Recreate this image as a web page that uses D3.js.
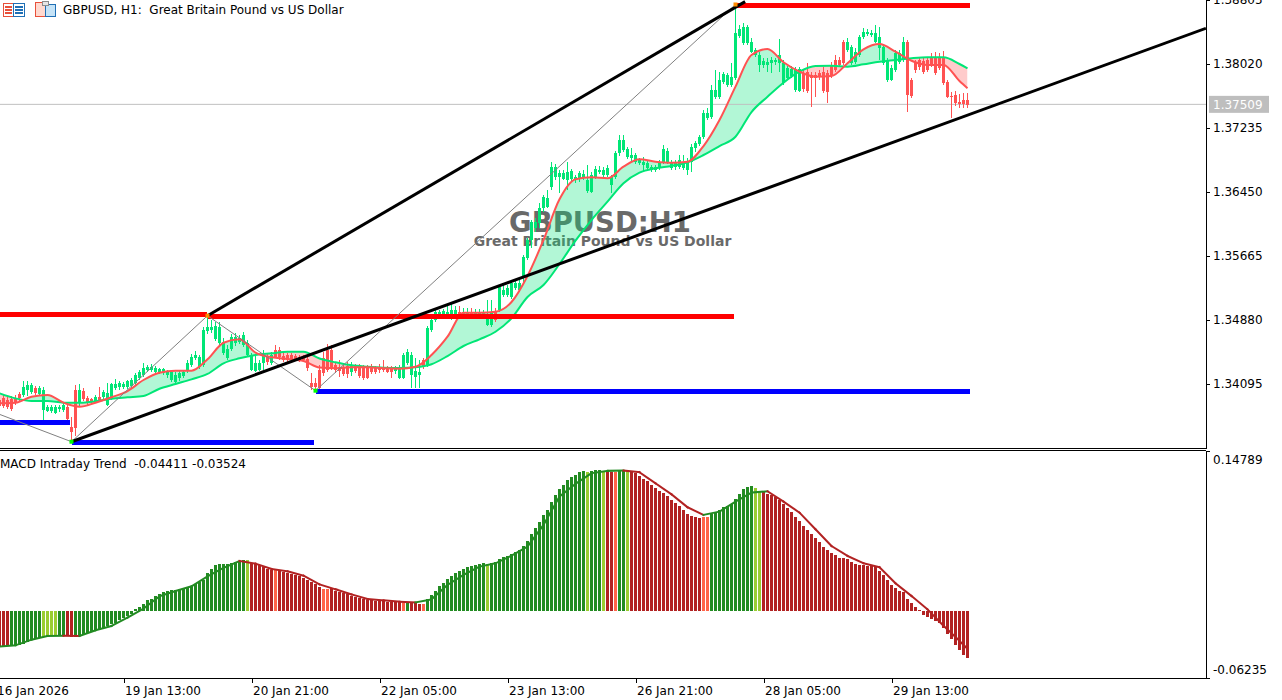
<!DOCTYPE html>
<html>
<head>
<meta charset="utf-8">
<title>GBPUSD H1</title>
<script src="https://cdn.jsdelivr.net/npm/d3@7"></script>
<style>
  html, body { margin: 0; padding: 0; background: #fff; overflow: hidden; }
  svg { display: block; }
  text { font-family: "DejaVu Sans", sans-serif; font-size: 12px; fill: #000; white-space: pre; }
  .axis path, .axis line { stroke: #000; shape-rendering: crispEdges; }
  .axis text { font-family: "DejaVu Sans", sans-serif; font-size: 12px; fill: #000; }
</style>
</head>
<body>
<script>
// all prices are stored as points above 1.30000 (4935 = 1.34935)
var opens = [
3899,3924,3899,3911,3924,3972,3960,4021,3997,4046,3972,3776,3764,3764,3740,3789,3776,3813,3567,4021,
3874,4009,3924,3911,3874,3936,3936,3837,3924,4046,4058,4058,4058,4070,4107,4169,4206,4267,4267,4242,
4242,4230,4206,4144,4120,4169,4193,4255,4328,4414,4303,4328,4745,4757,4647,4598,4475,4414,4524,4598,
4610,4573,4451,4267,4255,4267,4352,4426,4352,4512,4512,4438,4451,4451,4438,4426,4426,4401,4107,4107,
4267,4414,4512,4512,4328,4303,4291,4316,4242,4328,4316,4291,4291,4316,4291,4303,4303,4291,4279,4255,
4169,4169,4352,4206,4181,4206,4389,4328,4757,4880,4941,4953,4953,4953,4953,4978,4953,4941,4978,4953,
4953,4953,4818,4818,4978,5003,5187,5187,5162,5273,5248,5407,5640,5861,6008,6070,6254,6266,6511,6634,
6634,6609,6597,6609,6597,6609,6622,6462,6450,6634,6695,6658,6658,6536,6634,6928,6965,6879,6867,6818,
6806,6781,6744,6720,6720,6744,6818,6818,6744,6757,6757,6744,6720,6818,6990,7039,7125,7358,7370,7615,
7615,7799,7762,7762,7848,8363,8278,8278,8167,8130,8008,8008,8008,8032,8045,8032,7787,7848,7873,7701,
7689,7910,7922,7885,7885,7910,7922,7910,8008,8069,8069,8290,8192,8032,8045,8130,8351,8388,8376,8290,
8216,8032,7824,7824,7946,8045,8069,8290,7824,8045,8069,8057,8069,8094,8094,8094,8094,7799,7627,7640,
7554,7578,7578];
var closes = [
3825,3825,3813,3789,3874,3924,4058,4083,4083,3985,4046,4021,3813,3813,3813,3813,3837,3666,3506,3555,
4021,3911,3862,3874,3936,3899,3997,3985,4095,4095,4107,4095,4132,4144,4206,4242,4291,4303,4303,4291,
4279,4279,4242,4242,4206,4230,4242,4352,4426,4451,4426,4757,4794,4794,4806,4794,4610,4524,4671,4671,
4659,4696,4598,4451,4352,4352,4451,4365,4451,4426,4426,4389,4389,4389,4401,4389,4389,4291,4058,4058,
4046,4230,4267,4291,4267,4255,4218,4218,4316,4255,4193,4169,4169,4242,4242,4267,4267,4242,4242,4303,
4303,4451,4487,4451,4255,4242,4303,4782,4880,4978,4978,4990,4978,5003,5003,4941,4978,4978,4953,4978,
4978,4978,4904,4965,4880,5285,5248,5273,5334,5334,5334,5653,5861,6082,6082,6254,6389,6376,6757,6757,
6683,6683,6695,6708,6634,6683,6671,6597,6658,6732,6720,6720,6744,6634,6928,7088,7088,6977,6904,6904,
6842,6818,6806,6757,6757,6818,6977,6953,6818,6818,6842,6818,6818,7002,7051,7125,7419,7419,7701,7701,
7824,7897,7885,7860,8400,8449,8474,8474,8290,8192,8130,8057,8045,8069,8069,8130,8032,7971,7959,7959,
7959,7713,7689,7848,7848,7860,7689,7677,7873,7946,8008,8032,8290,8229,8167,8351,8412,8412,8400,8400,
8351,8229,8069,7971,8155,8155,8290,7640,7627,7946,7983,7922,7946,8008,7910,7971,7787,7615,7615,7541,
7529,7529,7517];
var highs = [
3924,3960,3936,3948,3960,3997,4132,4132,4107,4070,4070,4058,3837,3837,3837,3837,3862,3850,3690,4083,
4095,4046,3948,3924,3960,4058,4021,4107,4107,4156,4132,4120,4144,4169,4230,4267,4352,4328,4340,4316,
4291,4291,4267,4267,4242,4255,4267,4389,4463,4500,4451,4794,4929,4880,4855,4855,4659,4573,4708,4720,
4696,4733,4635,4475,4451,4389,4512,4463,4487,4573,4549,4475,4475,4475,4463,4451,4451,4438,4230,4169,
4328,4487,4586,4573,4365,4389,4352,4365,4365,4340,4340,4328,4328,4340,4316,4340,4389,4316,4316,4316,
4328,4475,4524,4487,4414,4389,4414,4806,4904,5003,5003,5015,5052,5076,5052,5052,5027,5027,5027,5015,
5015,5003,5125,5125,5027,5309,5334,5309,5358,5358,5371,5677,5886,6106,6131,6315,6413,6474,6818,6793,
6720,6720,6818,6732,6658,6708,6720,6781,6695,6769,6769,6757,6781,6658,6953,7149,7149,7002,6990,6928,
6867,6879,6830,6781,6781,6842,7026,6990,6842,6842,6904,6904,6867,7039,7075,7149,7456,7480,7762,7946,
7922,7922,7910,8032,8768,8498,8523,8498,8339,8216,8167,8094,8094,8106,8094,8327,8069,7995,7995,7983,
7983,7946,8032,7922,7922,7946,7983,7946,8045,8130,8106,8314,8339,8253,8216,8376,8462,8449,8437,8498,
8474,8253,8094,8008,8192,8192,8351,8314,7848,8069,8094,8094,8106,8155,8167,8155,8179,7824,7677,7689,
7652,7664,7664];
var lows = [
3801,3801,3789,3764,3837,3887,3936,3948,3972,3960,3948,3653,3752,3740,3727,3752,3752,3653,3408,3457,
3825,3887,3837,3850,3862,3874,3911,3825,3899,4021,4021,4033,4033,4046,4083,4144,4181,4242,4242,4218,
4218,4206,4169,4120,4095,4132,4169,4230,4303,4389,4279,4303,4708,4720,4622,4561,4451,4389,4500,4561,
4586,4549,4426,4255,4242,4255,4267,4328,4328,4414,4389,4365,4365,4352,4377,4365,4365,4255,4021,3997,
4021,4193,4242,4267,4230,4181,4193,4169,4193,4230,4169,4144,4156,4218,4218,4230,4242,4230,4169,4218,
4156,4156,4328,4046,4046,4046,4279,4303,4733,4855,4904,4892,4904,4880,4916,4904,4904,4904,4916,4904,
4916,4904,4806,4794,4855,4978,5162,5162,5137,5248,5223,5334,5616,5763,5959,6008,6205,6254,6474,6597,
6438,6597,6474,6573,6560,6573,6597,6438,6438,6609,6671,6634,6634,6438,6609,6891,6941,6855,6818,6793,
6781,6695,6708,6695,6695,6720,6793,6793,6720,6720,6732,6720,6658,6695,6941,7014,7100,7333,7345,7591,
7591,7775,7738,7738,7824,8339,8253,8253,8155,8106,7922,7971,7922,7910,8008,7922,7762,7824,7848,7677,
7677,7677,7664,7492,7615,7824,7664,7542,7848,7922,7983,8008,8167,8008,8020,8106,8327,8363,8351,8278,
8069,8008,7799,7811,7922,8020,8045,7431,7603,7910,7946,7897,7922,7983,7885,7946,7762,7603,7358,7505,
7480,7480,7480];

// moving averages
var maBars = d3.range(0, 241, 4).concat(242);
var fastMa = [
3858,3866,3939,3960,3866,3816,3866,3932,4009,4144,4233,4258,4258,4398,4601,4643,4479,4422,4402,4377,
4297,4287,4300,4300,4287,4283,4307,4451,4675,4969,4969,4982,5101,5420,5861,6360,6606,6630,6618,6760,
6851,6822,6809,6822,7014,7333,7742,8130,8204,8041,7926,7864,7873,8029,8200,8265,8171,8060,8008,8008,
7811,7722];
var slowMa = [
3981,3919,3886,3886,3866,3866,3883,3915,3932,3948,4037,4095,4152,4218,4349,4410,4451,4471,4491,4491,
4408,4361,4324,4307,4295,4291,4300,4337,4438,4561,4643,4736,4901,5162,5309,5567,5853,6106,6331,6557,
6687,6741,6769,6814,6904,7014,7128,7431,7619,7791,7926,7995,7999,7987,8016,8048,8069,8090,8102,8102,
8020,7967];

// MACD pane, in thousandths
var macdValues = [
-33.1,-33.1,-33.1,-33.1,-32.8,-32.1,-30.6,-29,-27.5,-26.3,-25.3,-24.4,-23.8,-23.2,-22.9,-22.9,-23.2,-23.8,-24.7,-24.4,
-23.8,-22.2,-20.7,-19.8,-18.8,-17.6,-16.1,-14.5,-12.7,-11.1,-9,-6.5,-4.6,-2.8,1.9,3.4,6.5,9.6,11.1,13.3,
15.8,17.3,17.9,18.8,19.5,20.4,21.3,21.9,23.2,25,26.6,28.7,35.2,38.9,42,43.6,43.6,43.6,44.2,45.1,
46,46.7,46.7,44.2,43.6,42,40.5,38.9,38,37.4,37.4,35.8,34.9,34.3,32.8,31.8,30.6,28.1,26.6,24.4,
21.9,20.4,20.4,20.7,18.2,17,16,15.1,13.6,12.7,12,10.5,9.9,9.9,9,9,9,8.3,8.3,8,
7.7,7.1,6.8,7.7,6.8,6.5,6.5,10.5,14.5,17.9,22.9,25.6,29.4,32.1,34.9,36.8,38.6,40.2,41.4,42.3,
43.3,43.9,43,43.9,44.8,47.6,49.4,50.7,52.5,54.4,56.2,59.9,64.6,71,76.3,82.2,88.7,93.3,100.7,107.2,
112.8,116.5,121.1,123.6,125.8,128.2,129.5,128.5,129.5,130.4,130.4,129.8,129.5,128.9,128.9,130.1,130.4,130.1,129.5,127.3,
125.1,122,120.2,116.5,114,111.2,109.4,106.3,102.6,100.1,97,93.3,89.6,87.8,86.5,85.9,87.1,87.1,89.6,90.2,
93.3,95.8,97,98.9,103.5,108.2,112.8,114.9,115.6,113.7,111.2,110,108.2,106.9,105.1,102.6,98.9,95.5,91.5,87.1,
83.4,78.8,74.8,71.1,67.4,63.7,59.3,56.2,53.5,51.6,49.1,48.8,47.9,45.1,43.3,42.3,42.3,41.7,41.4,40.2,
36.8,32.8,28.4,23.8,21,18.5,17.3,10.8,7.4,3.4,0.6,-4,-5.9,-7.7,-9.6,-11.7,-16,-21.6,-26.3,-31.8,
-36.5,-41.1,-44.11];
var signalValues = [
-33.1,-32.1,-26.9,-23.5,-23.2,-23.5,-18.2,-14.2,-6.5,1.9,13.3,18.2,22.6,31.8,39.6,46,43.6,38.6,36.5,32.4,
24.4,19.8,15.1,10.8,9.6,8.3,7.7,10.5,23.8,33.1,40.8,43.9,51,59.3,79.4,105.7,117.4,127.3,129.5,129.8,
128.2,118,107.8,95.8,88.7,91.8,101,109.4,110.6,101,90.8,75.4,59.9,50.7,43.9,40.2,25.3,13.6,1.2,-14,
-28,-35.24];
// colour state of each histogram run: [state, bars]
var macdRuns = [
["down",3],["up",8],["upSlow",4],["up",2],["down",2],["up",43],["upSlow",1],["down",6],["downSlow",1],["down",11],
["downSlow",2],["down",18],["downSlow",1],["up",1],["down",3],["downSlow",1],["up",15],["upSlow",1],["up",24],["upSlow",1],
["up",3],["upSlow",1],["down",2],["downSlow",1],["up",2],["upSlow",1],["down",18],["downSlow",2],["up",11],["upSlow",2],
["down",52]];

var priceTicks = [8805, 8020, 7235, 6450, 5665, 4880, 4095];
var macdTicks = [147.89, -62.35];
var timeTickBars = [-1, 31, 63, 95, 127, 159, 191, 223];
var timeLabels = ["16 Jan 2026", "19 Jan 13:00", "20 Jan 21:00", "22 Jan 05:00", "23 Jan 13:00", "26 Jan 21:00", "28 Jan 05:00", "29 Jan 13:00"];

// drawn objects: [from bar, to bar, price]
var redLevels = [[-1, 51.9, 4947], [52, 183.5, 4925], [184, 242.5, 8736]];
var blueLevels = [[-1, 17.6, 3623], [18, 78.6, 3377], [79, 242.5, 4003]];
var trendLines = [[52, 4933, 186.4, 8785], [18, 3387, 301.6, 8458]];
var zigzagBars = [0, 18, 52, 79, 184];
var zigzagPrices = [3723, 3387, 4933, 4013, 8750];
var bidLine = 7525;
var bidLabel = "1.37509";

var GREEN = "#00e676", RED = "#ff5252";
var macdColor = { up: "#228b22", down: "#b22222", upSlow: "#9acd32", downSlow: "#ff6347" };

var WIDTH = 1282, HEIGHT = 700, AXIS_X = 1206;

var x = d3.scaleLinear().domain([0, 242]).range([-0.5, 967.5]);
var yPrice = d3.scaleLinear().domain([8805, 3310]).range([0, 448]);
var yMacd = d3.scaleLinear().domain([147.89, -62.35]).range([451, 678]);

function fmtPrice(p) { return (1.3 + p / 1e5).toFixed(5); }

var svg = d3.select("body").append("svg").attr("width", WIDTH).attr("height", HEIGHT);
var defs = svg.append("defs");

defs.append("clipPath").attr("id", "pricePane").append("rect")
    .attr("x", 0).attr("y", 0).attr("width", AXIS_X).attr("height", 448);
defs.append("clipPath").attr("id", "macdPane").append("rect")
    .attr("x", 0).attr("y", 451).attr("width", AXIS_X).attr("height", 227);

var ma = maBars.map(function(b, i) { return { bar: b, fast: fastMa[i], slow: slowMa[i] }; });
var curve = d3.curveMonotoneX;

defs.append("clipPath").attr("id", "aboveSlow").append("path")
    .attr("d", d3.area().curve(curve).x(function(d) { return x(d.bar); }).y0(0).y1(function(d) { return yPrice(d.slow); })(ma));
defs.append("clipPath").attr("id", "belowSlow").append("path")
    .attr("d", d3.area().curve(curve).x(function(d) { return x(d.bar); }).y0(448).y1(function(d) { return yPrice(d.slow); })(ma));

var price = svg.append("g").attr("clip-path", "url(#pricePane)");

// watermark sits under everything else
price.append("text").attr("x", 600).attr("y", 232).attr("text-anchor", "middle")
    .style("font-size", "27.5px").style("font-weight", "bold").style("fill", "#696969")
    .text("GBPUSD:H1");
price.append("text").attr("x", 602.5).attr("y", 246).attr("text-anchor", "middle")
    .style("font-size", "14px").style("font-weight", "bold").style("fill", "#696969")
    .text("Great Britain Pound vs US Dollar");

var band = d3.area().curve(curve)
    .x(function(d) { return x(d.bar); })
    .y0(function(d) { return yPrice(d.slow); })
    .y1(function(d) { return yPrice(d.fast); });

price.append("g").attr("clip-path", "url(#aboveSlow)").append("path")
    .attr("d", band(ma)).attr("fill", GREEN).attr("fill-opacity", 0.3);
price.append("g").attr("clip-path", "url(#belowSlow)").append("path")
    .attr("d", band(ma)).attr("fill", RED).attr("fill-opacity", 0.3);

// bid line
price.append("line").attr("x1", 0).attr("x2", AXIS_X)
    .attr("y1", yPrice(bidLine)).attr("y2", yPrice(bidLine))
    .attr("stroke", "#c0c0c0").attr("stroke-width", 1);

// candles
var candles = price.append("g").attr("shape-rendering", "crispEdges");
var bars = d3.range(opens.length);

candles.selectAll(".wick").data(bars).enter().append("rect")
    .attr("x", function(i) { return x(i) - 0.5; })
    .attr("width", 1)
    .attr("y", function(i) { return yPrice(highs[i]); })
    .attr("height", function(i) { return yPrice(lows[i]) - yPrice(highs[i]); })
    .attr("fill", function(i) { return closes[i] >= opens[i] ? GREEN : RED; });

candles.selectAll(".body").data(bars).enter().append("rect")
    .attr("x", function(i) { return x(i) - 1.5; })
    .attr("width", 3)
    .attr("y", function(i) { return yPrice(Math.max(opens[i], closes[i])); })
    .attr("height", function(i) { return Math.max(1, Math.abs(yPrice(opens[i]) - yPrice(closes[i]))); })
    .attr("fill", function(i) { return closes[i] >= opens[i] ? GREEN : RED; });

// moving average lines
var fastLine = d3.line().curve(curve).x(function(d) { return x(d.bar); }).y(function(d) { return yPrice(d.fast); });
var slowLine = d3.line().curve(curve).x(function(d) { return x(d.bar); }).y(function(d) { return yPrice(d.slow); });
price.append("path").attr("d", slowLine(ma)).attr("fill", "none").attr("stroke", GREEN).attr("stroke-width", 2);
price.append("path").attr("d", fastLine(ma)).attr("fill", "none").attr("stroke", RED).attr("stroke-width", 2);

// horizontal levels
function drawLevels(levels, color) {
  price.selectAll(null).data(levels).enter().append("line")
      .attr("x1", function(d) { return x(d[0]); })
      .attr("x2", function(d) { return x(d[1]); })
      .attr("y1", function(d) { return yPrice(d[2]); })
      .attr("y2", function(d) { return yPrice(d[2]); })
      .attr("stroke", color).attr("stroke-width", 5)
      .attr("shape-rendering", "crispEdges");
}
drawLevels(redLevels, "#ff0000");
drawLevels(blueLevels, "#0000ff");

// thin zigzag
var zigzag = zigzagBars.map(function(b, i) { return [x(b), yPrice(zigzagPrices[i])]; });
price.append("path").attr("d", d3.line()(zigzag)).attr("fill", "none").attr("stroke", "#808080").attr("stroke-width", 1);

// trend lines
price.selectAll(null).data(trendLines).enter().append("line")
    .attr("x1", function(d) { return x(d[0]); })
    .attr("y1", function(d) { return yPrice(d[1]); })
    .attr("x2", function(d) { return x(d[2]); })
    .attr("y2", function(d) { return yPrice(d[3]); })
    .attr("stroke", "#000").attr("stroke-width", 3);

// pivot markers
price.selectAll(null).data(zigzag.slice(1)).enter().append("rect")
    .attr("x", function(d) { return d[0] - 2; })
    .attr("y", function(d) { return d[1] - 2; })
    .attr("width", 4).attr("height", 4)
    .attr("fill", function(d, i) { return i % 2 ? "#ff8c00" : "#00ff00"; });
price.selectAll(null).data(zigzag.slice(2, 5)).enter().append("rect");

// MACD pane
var macdStates = [];
macdRuns.forEach(function(r) {
  for (var i = 0; i < r[1]; i++) macdStates.push(r[0]);
});

var macd = svg.append("g").attr("clip-path", "url(#macdPane)");
macd.selectAll(".hist").data(macdValues).enter().append("rect")
    .attr("x", function(v, i) { return x(i) - 1.5; })
    .attr("width", 3)
    .attr("y", function(v) { return Math.min(yMacd(v), yMacd(0)); })
    .attr("height", function(v) { return Math.abs(yMacd(v) - yMacd(0)); })
    .attr("fill", function(v, i) { return macdColor[macdStates[i]]; })
    .attr("shape-rendering", "crispEdges");

// signal is green while rising, red while falling
var signalPts = maBars.map(function(b, i) { return [x(b), yMacd(signalValues[i]), signalValues[i]]; });
macd.selectAll(".signal").data(signalPts.slice(1)).enter().append("line")
    .attr("x1", function(d, i) { return signalPts[i][0]; })
    .attr("y1", function(d, i) { return signalPts[i][1]; })
    .attr("x2", function(d) { return d[0]; })
    .attr("y2", function(d) { return d[1]; })
    .attr("stroke", function(d, i) { return d[2] >= signalPts[i][2] ? "#228b22" : "#b22222"; })
    .attr("stroke-width", 2).attr("stroke-linecap", "square");

svg.append("text").attr("x", 0).attr("y", 468).text("MACD Intraday Trend  -0.04411 -0.03524");

// axes
var priceAxis = d3.axisRight(yPrice).tickValues(priceTicks).tickFormat(fmtPrice).tickSize(4).tickSizeOuter(0).tickPadding(3);
svg.append("g").attr("class", "axis").attr("transform", "translate(" + AXIS_X + ",0)").call(priceAxis);

var macdAxis = d3.axisRight(yMacd).tickValues(macdTicks)
    .tickFormat(function(d) { return (d / 1000).toFixed(5); })
    .tickSize(4).tickSizeOuter(0).tickPadding(3);
var macdG = svg.append("g").attr("class", "axis").attr("transform", "translate(" + AXIS_X + ",0)").call(macdAxis);
macdG.selectAll(".tick text").attr("dy", function(d) { return d > 0 ? "1.0em" : "-0.38em"; });

var timeAxis = d3.axisBottom(x).tickValues(timeTickBars)
    .tickFormat(function(d, i) { return timeLabels[i]; })
    .tickSize(5).tickSizeOuter(0);
var timeG = svg.append("g").attr("class", "axis").attr("transform", "translate(0,678)").call(timeAxis);
timeG.select(".domain").remove();
timeG.selectAll(".tick text").attr("text-anchor", "start").attr("x", 1).attr("y", 8);

[448, 450, 678].forEach(function(py) {
  svg.append("line").attr("x1", 0).attr("x2", AXIS_X).attr("y1", py + 0.5).attr("y2", py + 0.5)
      .attr("stroke", "#000").attr("shape-rendering", "crispEdges");
});

// bid label on the price axis
svg.append("rect").attr("x", 1209).attr("y", yPrice(bidLine) - 8.5).attr("width", 60).attr("height", 17).attr("fill", "#bebebe");
svg.append("text").attr("x", 1213).attr("y", yPrice(bidLine) + 4.5).style("fill", "#fff").text(bidLabel);

// header
var icons = svg.append("g").attr("shape-rendering", "crispEdges");
icons.append("rect").attr("x", 3.5).attr("y", 3.5).attr("width", 10).attr("height", 13).attr("fill", "#fff").attr("stroke", "#e8503a");
icons.append("rect").attr("x", 13.5).attr("y", 3.5).attr("width", 11).attr("height", 13).attr("fill", "#fff").attr("stroke", "#1f6fb5");
[6, 9, 12].forEach(function(py) {
  icons.append("rect").attr("x", 5).attr("y", py).attr("width", 7).attr("height", 2).attr("fill", "#e8503a");
  icons.append("rect").attr("x", 15).attr("y", py).attr("width", 8).attr("height", 2).attr("fill", "#1f6fb5");
});
icons.append("rect").attr("x", 35.5).attr("y", 2.5).attr("width", 10).attr("height", 14).attr("fill", "#ffd9cf").attr("stroke", "#e8503a");
icons.append("rect").attr("x", 45.5).attr("y", 4.5).attr("width", 10).attr("height", 12).attr("fill", "#c5e3f7").attr("stroke", "#1f6fb5");
icons.append("rect").attr("x", 42.5).attr("y", 1.5).attr("width", 6).attr("height", 4).attr("fill", "#e6e6e6").attr("stroke", "#8c8c8c");

svg.append("text").attr("x", 63).attr("y", 14).text("GBPUSD, H1:  Great Britain Pound vs US Dollar");
</script>
</body>
</html>
